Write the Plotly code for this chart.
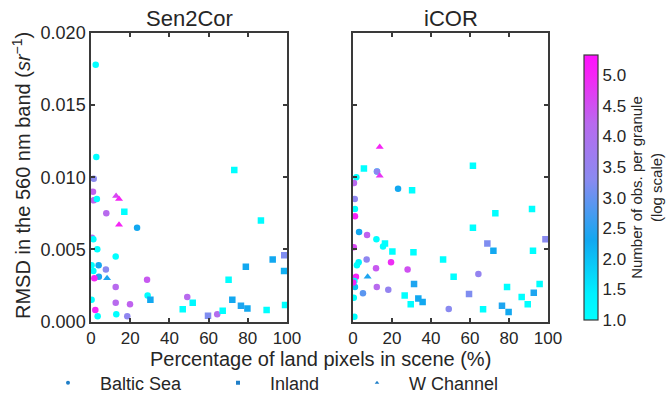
import plotly.graph_objects as go

# ---------------- data ----------------
# Sen2Cor panel
s2c_baltic_x = [2.4, 2.7, 1.4, 1.0, 1.4, 3.0, 7.8, 23.5, 0.5, 1.2, 3.2, 12.6, 3.9, 0.3, 1.2, 7.6, 4.0, 1.7,
                12.6, 28.6, 28.9, 12.6, 19.9, 49.1, 0.3, 2.2, 3.4, 12.9, 18.5, 64.4]
s2c_baltic_y = [0.0178, 0.0114, 0.0099, 0.0090, 0.0084, 0.0085, 0.0075, 0.0065, 0.0058, 0.0057, 0.0050, 0.0045,
                0.0039, 0.0039, 0.0035, 0.0036, 0.0031, 0.0030, 0.0024, 0.0029, 0.0018, 0.0013, 0.0012, 0.0017,
                0.0015, 0.0008, 0.00036, 0.0005, 0.00036, 0.0005]
s2c_baltic_c = [1.0, 1.0, 3.3, 4.3, 4.3, 1.0, 4.2, 2.3, 4.2, 1.0, 1.0, 1.0, 2.3, 1.0, 1.0, 3.3, 2.4, 5.0,
                4.2, 4.4, 1.0, 4.2, 4.3, 4.2, 1.0, 5.0, 1.0, 1.0, 3.4, 4.1]

s2c_inland_x = [17.0, 30.3, 46.8, 51.9, 59.7, 67.2, 70.2, 72.1, 73.1, 76.5, 79.0, 79.8, 86.7, 89.6, 92.7, 98.6, 98.5, 99.0]
s2c_inland_y = [0.0076, 0.0015, 0.00085, 0.0013, 0.0004, 0.00075, 0.0029, 0.0015, 0.0105, 0.0011, 0.0038, 0.0009,
                0.0070, 0.0008, 0.0043, 0.0046, 0.0035, 0.00115]
s2c_inland_c = [1.0, 2.3, 1.0, 1.2, 3.2, 1.0, 1.0, 2.3, 1.0, 2.4, 2.3, 2.3, 1.1, 1.0, 2.3, 3.2, 2.2, 1.0]

s2c_wch_x = [12.8, 14.3, 14.3, 8.2]
s2c_wch_y = [0.0087, 0.0085, 0.0067, 0.0030]
s2c_wch_c = [4.6, 5.0, 5.0, 2.4]

# iCOR panel
icor_baltic_x = [12.3, 12.3, 1.7, 0.5, 23.1, 0.9, 1.0, 1.0, 3.1, 7.2, 12.0, 15.4, 0.4, 7.0, 2.9, 2.0, 19.5,
                 11.8, 28.0, 1.5, 0.7, 1.0, 0.1, 12.2, 18.1, 5.1, 0.4, 0.7, 49.1, 64.3]
icor_baltic_y = [0.0104, 0.0104, 0.0100, 0.0096, 0.0092, 0.0085, 0.0078, 0.0073, 0.0062, 0.0060, 0.0057, 0.0052,
                 0.00515, 0.0043, 0.0041, 0.0039, 0.0041, 0.0037, 0.0036, 0.0031, 0.0028, 0.0024, 0.0027, 0.0024,
                 0.0022, 0.00196, 0.00165, 0.00033, 0.00087, 0.0033]
icor_baltic_c = [1.0, 3.4, 1.0, 4.2, 2.3, 3.4, 1.0, 5.0, 2.3, 4.3, 1.0, 1.0, 4.6, 3.4, 1.3, 1.0, 4.9,
                 4.4, 4.5, 5.0, 1.0, 2.0, 5.0, 4.2, 3.5, 2.9, 1.0, 1.0, 3.3, 3.5]

icor_inland_x = [5.6, 30.3, 16.4, 20.2, 31.0, 46.2, 51.6, 31.3, 26.5, 29.6, 33.5, 35.7, 59.5, 61.5, 61.5, 66.7,
                 68.9, 72.0, 73.0, 76.4, 79.0, 79.8, 86.5, 89.6, 91.8, 92.3, 92.7, 95.7, 98.7]
icor_inland_y = [0.0106, 0.0091, 0.0054, 0.00485, 0.0048, 0.0043, 0.0031, 0.0026, 0.0018, 0.0012, 0.0016, 0.00135,
                 0.0019, 0.0108, 0.0065, 0.00085, 0.0054, 0.0049, 0.0075, 0.0011, 0.0024, 0.00065, 0.0017, 0.0012,
                 0.0078, 0.0049, 0.0020, 0.0026, 0.0057]
icor_inland_c = [1.0, 1.0, 1.0, 1.0, 1.0, 1.0, 1.0, 2.4, 1.0, 1.0, 2.3, 2.3, 3.2, 1.0, 1.0, 1.0,
                 3.2, 2.3, 1.0, 2.4, 1.0, 2.3, 1.0, 1.0, 1.0, 1.0, 2.4, 1.0, 3.3]

icor_wch_x = [13.7, 13.7, 7.5]
icor_wch_y = [0.0121, 0.0101, 0.0031]
icor_wch_c = [5.0, 4.8, 2.4]

panel_titles = ["Sen2Cor", "iCOR"]
site_names = ["Baltic Sea", "Inland", "W Channel"]
site_symbols = ["circle", "square", "triangle-up"]
x_ticks = [0, 20, 40, 60, 80, 100]
y_ticks = [0.000, 0.005, 0.010, 0.015, 0.020]
cbar_ticks = [1.0, 1.5, 2.0, 2.5, 3.0, 3.5, 4.0, 4.5, 5.0]

# ---------------- figure ----------------
W, H = 667, 407
def px_x(p):
    return p / W
def px_y(p):
    return 1 - p / H

FONT = "Liberation Sans, Arial, sans-serif"
TXT = "#262626"
AX = "#3a3a3a"

fig = go.Figure()

panels = [
    ("x", "y", [(s2c_baltic_x, s2c_baltic_y, s2c_baltic_c),
                (s2c_inland_x, s2c_inland_y, s2c_inland_c),
                (s2c_wch_x, s2c_wch_y, s2c_wch_c)]),
    ("x2", "y2", [(icor_baltic_x, icor_baltic_y, icor_baltic_c),
                  (icor_inland_x, icor_inland_y, icor_inland_c),
                  (icor_wch_x, icor_wch_y, icor_wch_c)]),
]
sizes = [6.5, 6.5, 7]
for xa, ya, series in panels:
    for (xs, ys, cs), sym, sz, name in zip(series, site_symbols, sizes, site_names):
        fig.add_trace(go.Scatter(
            x=xs, y=ys, mode="markers", xaxis=xa, yaxis=ya, name=name, showlegend=False,
            marker=dict(symbol=sym, size=sz, color=cs, coloraxis="coloraxis", line=dict(width=0)),
        ))

# legend entries (three separate legends for positioning)
leg_names = ["legend", "legend2", "legend3"]
for name, sym, lg in zip(site_names, site_symbols, leg_names):
    fig.add_trace(go.Scatter(
        x=[None], y=[None], mode="markers", name=name, legend=lg, showlegend=True,
        marker=dict(symbol=sym, size=4, color="#1f7fc8"),
    ))

axis_common = dict(
    showline=True, linecolor=AX, linewidth=1.5, mirror="ticks",
    ticks="inside", ticklen=4, tickwidth=1.5, tickcolor=AX,
    showgrid=False, zeroline=False, automargin=False,
)
xtickfont = dict(family=FONT, size=17, color=TXT)
ytickfont = dict(family=FONT, size=18, color=TXT)

colorscale = [
    [0.0, "#00FFFF"],
    [0.10, "#00F0FF"],
    [0.30, "#12A8F0"],
    [0.53, "#8A8AF0"],
    [0.74, "#B86AEE"],
    [0.92, "#F526F5"],
    [1.0, "#FF10FF"],
]

leg_common = dict(orientation="h", yanchor="middle", y=px_y(383), xanchor="left",
                  font=dict(family=FONT, size=18, color=TXT), bgcolor="rgba(0,0,0,0)",
                  itemwidth=54, tracegroupgap=0)

fig.update_layout(
    width=W, height=H,
    margin=dict(l=0, r=0, t=0, b=0, autoexpand=False),
    paper_bgcolor="white", plot_bgcolor="white",
    font=dict(family=FONT, color=TXT),
    xaxis=dict(domain=[px_x(91), px_x(287)], range=[0, 100], tickvals=x_ticks, anchor="y",
               tickfont=xtickfont, **axis_common),
    yaxis=dict(domain=[px_y(321.5), px_y(33)], range=[0, 0.020], tickvals=y_ticks, tickformat=".3f",
               anchor="x", tickfont=ytickfont, **axis_common),
    xaxis2=dict(domain=[px_x(353), px_x(548)], range=[0, 100], tickvals=x_ticks, anchor="y2",
                tickfont=xtickfont, **axis_common),
    yaxis2=dict(domain=[px_y(321.5), px_y(33)], range=[0, 0.020], tickvals=y_ticks, showticklabels=False,
                anchor="x2", tickfont=ytickfont, **axis_common),
    coloraxis=dict(
        colorscale=colorscale, cmin=1.0, cmax=5.33,
        colorbar=dict(
            x=px_x(584), xanchor="left", xpad=0, ypad=0,
            y=px_y(187.5), yanchor="middle", len=(320 - 55) / H, lenmode="fraction",
            thickness=14, thicknessmode="pixels",
            outlinewidth=1.2, outlinecolor=AX,
            tickvals=cbar_ticks, tickformat=".1f", ticks="inside", ticklen=0,
            tickfont=dict(family=FONT, size=17, color=TXT),
            title=dict(text="Number of obs. per granule<br>(log scale)", side="right",
                       font=dict(family=FONT, size=15, color=TXT)),
        ),
    ),
    legend=dict(x=px_x(36), **leg_common),
    legend2=dict(x=px_x(206), **leg_common),
    legend3=dict(x=px_x(345), **leg_common),
)

annotations = [
    dict(text=panel_titles[0], x=px_x(189), y=px_y(18), xref="paper", yref="paper", showarrow=False,
         font=dict(family=FONT, size=22, color=TXT), xanchor="center", yanchor="middle"),
    dict(text=panel_titles[1], x=px_x(451), y=px_y(18), xref="paper", yref="paper", showarrow=False,
         font=dict(family=FONT, size=22, color=TXT), xanchor="center", yanchor="middle"),
    dict(text="RMSD in the 560 nm band (<i>sr</i><sup>\u22121</sup>)", x=px_x(21), y=px_y(176),
         xref="paper", yref="paper", showarrow=False, textangle=-90,
         font=dict(family=FONT, size=20, color=TXT), xanchor="center", yanchor="middle"),
    dict(text="Percentage of land pixels in scene (%)", x=px_x(320), y=px_y(359), xref="paper", yref="paper",
         showarrow=False, font=dict(family=FONT, size=20, color=TXT), xanchor="center", yanchor="middle"),
]
fig.update_layout(annotations=annotations)

fig.write_html("out.html", config={"displayModeBar": False},
               post_script="document.body.style.margin='0';document.body.style.padding='0';")
